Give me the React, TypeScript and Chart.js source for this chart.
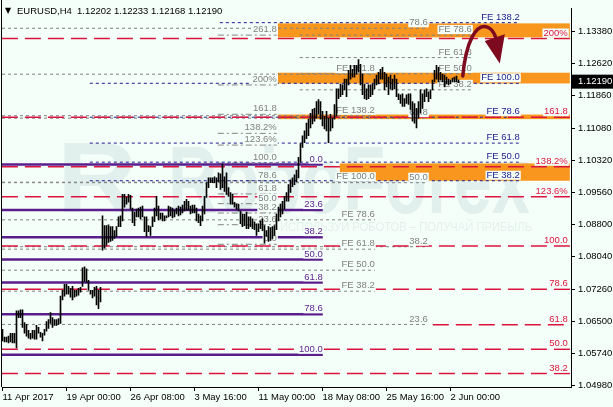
import React, { useEffect, useRef } from 'react';
import { Chart, registerables } from 'chart.js';

Chart.register(...registerables);

// ---- Price bars (H4, one value per bar, oldest first) ----
const highs = [
  1.06317, 1.06131, 1.06131, 1.06155, 1.06224, 1.06224, 1.06224, 1.06757, 1.06757, 1.06780,
  1.06780, 1.06479, 1.06433, 1.06294, 1.06224, 1.06294, 1.06294, 1.06410, 1.06363, 1.06247,
  1.06224, 1.06317, 1.06502, 1.06549, 1.06711, 1.06595, 1.06549, 1.06549, 1.06572, 1.07105,
  1.07244, 1.07383, 1.07383, 1.07337, 1.07290, 1.07337, 1.07244, 1.07244, 1.07290, 1.07314,
  1.07777, 1.07800, 1.07754, 1.07476, 1.07244, 1.07244, 1.07314, 1.07337, 1.07244, 1.07314,
  1.09006, 1.08774, 1.08774, 1.08797, 1.08751, 1.08751, 1.08658, 1.08751, 1.08983, 1.09006,
  1.09516, 1.09516, 1.09446, 1.09516, 1.09493, 1.09191, 1.09099, 1.09168, 1.09191, 1.09214,
  1.09238, 1.08983, 1.08983, 1.08774, 1.08751, 1.08983, 1.09191, 1.09470, 1.09238, 1.09075,
  1.09075, 1.09006, 1.09006, 1.09238, 1.09214, 1.09191, 1.09145, 1.09191, 1.09238, 1.09214,
  1.09261, 1.09354, 1.09400, 1.09354, 1.09238, 1.09261, 1.09261, 1.09191, 1.09052, 1.09006,
  1.09238, 1.09470, 1.09794, 1.09910, 1.09910, 1.09910, 1.09933, 1.09910, 1.10026, 1.10003,
  1.10235, 1.09933, 1.10026, 1.09678, 1.09562, 1.09516, 1.09330, 1.09284, 1.09284, 1.09122,
  1.09052, 1.09052, 1.09099, 1.08983, 1.08983, 1.08936, 1.08867, 1.08820, 1.08820, 1.08890,
  1.08936, 1.08774, 1.08658, 1.08751, 1.08728, 1.08751, 1.08774, 1.09052, 1.09214, 1.09284,
  1.09354, 1.09470, 1.09562, 1.09748, 1.09864,
  1.09910, 1.09979, 1.10095, 1.10397, 1.10721, 1.10907, 1.11023, 1.11208, 1.11300, 1.11440,
  1.11532, 1.11556, 1.11718, 1.11764, 1.11718, 1.11486, 1.11370, 1.11486, 1.11324, 1.11417,
  1.11324, 1.11648, 1.12019, 1.12019, 1.12135, 1.12112, 1.12251, 1.12251, 1.12460, 1.12576,
  1.12483, 1.12576, 1.12576, 1.12715, 1.12599, 1.12367, 1.12135, 1.12019, 1.12112, 1.12112,
  1.12135, 1.12251, 1.12344, 1.12413,
  1.12483, 1.12529, 1.12413, 1.12367, 1.12297, 1.12344, 1.12251, 1.12344, 1.12251, 1.11903,
  1.11880, 1.11903, 1.11787, 1.11880, 1.11903, 1.11903, 1.11718, 1.11672, 1.11556, 1.11718,
  1.11996, 1.11903, 1.11996, 1.12019, 1.11950, 1.11996, 1.12228, 1.12460, 1.12576, 1.12529,
  1.12413, 1.12367, 1.12344, 1.12297, 1.12251, 1.12228, 1.12274, 1.12297, 1.12320, 1.12233,
];
const lows = [
  1.06039, 1.06016, 1.06016, 1.05992, 1.06016, 1.05992, 1.05992, 1.05877, 1.06595, 1.06595,
  1.06363, 1.06224, 1.06155, 1.06108, 1.06085, 1.06108, 1.06085, 1.06085, 1.06224, 1.06131,
  1.06039, 1.06178, 1.06271, 1.06340, 1.06456, 1.06363, 1.06410, 1.06410, 1.06433, 1.06456,
  1.07012, 1.07105, 1.07151, 1.07151, 1.07082, 1.07012, 1.07082, 1.07105, 1.07128, 1.07198,
  1.07337, 1.07453, 1.07430, 1.07244, 1.07151, 1.07059, 1.07105, 1.06896, 1.06804, 1.06966,
  1.08195, 1.08241, 1.08310, 1.08380, 1.08403, 1.08426, 1.08473, 1.08519, 1.08751, 1.08751,
  1.08890, 1.09214, 1.09284, 1.09330, 1.09168, 1.08844, 1.08774, 1.08983, 1.08983, 1.08936,
  1.08983, 1.08635, 1.08519, 1.08635, 1.08542, 1.08751, 1.08867, 1.09006, 1.08913, 1.08936,
  1.08890, 1.08890, 1.08960, 1.08983, 1.09006, 1.08960, 1.08983, 1.09052, 1.09006, 1.09029,
  1.09075, 1.09122, 1.09145, 1.09145, 1.09052, 1.09075, 1.09075, 1.08890, 1.08844, 1.08774,
  1.08890, 1.09052, 1.09446, 1.09678, 1.09794, 1.09794, 1.09794, 1.09678, 1.09817, 1.09632,
  1.09678, 1.09585, 1.09516, 1.09470, 1.09284, 1.09284, 1.09214, 1.09168, 1.09122, 1.08820,
  1.08751, 1.08774, 1.08705, 1.08705, 1.08751, 1.08705, 1.08681, 1.08542, 1.08635, 1.08705,
  1.08658, 1.08357, 1.08519, 1.08403, 1.08426, 1.08473, 1.08542, 1.08681, 1.08890, 1.08983,
  1.09052, 1.09168, 1.09354, 1.09354, 1.09562,
  1.09701, 1.09748, 1.09817, 1.09910, 1.10281, 1.10628, 1.10744, 1.10837, 1.10907, 1.11092,
  1.11185, 1.11254, 1.11324, 1.11417, 1.11300, 1.11138, 1.11069, 1.11023, 1.10744, 1.11023,
  1.11092, 1.11300, 1.11370, 1.11787, 1.11834, 1.11880, 1.11996, 1.11834, 1.12112, 1.12251,
  1.12297, 1.12297, 1.12367, 1.12413, 1.12112, 1.11880, 1.11787, 1.11764, 1.11787, 1.11834,
  1.11880, 1.12019, 1.12112, 1.12135,
  1.12251, 1.12251, 1.11996, 1.12066, 1.11880, 1.12019, 1.11996, 1.12019, 1.11834, 1.11764,
  1.11672, 1.11602, 1.11602, 1.11672, 1.11648, 1.11532, 1.11254, 1.11208, 1.11092, 1.11324,
  1.11440, 1.11556, 1.11718, 1.11834, 1.11718, 1.11787, 1.11996, 1.12182, 1.12251, 1.12182,
  1.12228, 1.12182, 1.12066, 1.12135, 1.12112, 1.12135, 1.12182, 1.12182, 1.12182, 1.12168,
];

// ---- Axes ----
const xTickIndex = [0, 32, 64, 96, 128, 160, 192, 224];
const xTickLabels = ['11 Apr 2017', '19 Apr 00:00', '26 Apr 08:00', '3 May 16:00', '11 May 00:00', '18 May 08:00', '25 May 16:00', '2 Jun 00:00'];
const yTickValues = [1.1338, 1.1262, 1.1186, 1.1108, 1.1032, 1.0956, 1.088, 1.0804, 1.0726, 1.065, 1.0574, 1.0498];
const currentPrice = 1.1219;
const titleSymbol = 'EURUSD,H4';
const titleQuote = '1.12202 1.12233 1.12168 1.12190';

// ---- Level groups (bar-index extents, prices, labels) ----
const crimsonLabels = ['200%', '161.8', '138.2%', '123.6%', '100.0', '78.6', '61.8', '50.0', '38.2'];
const crimsonPrices = [1.13213, 1.11347, 1.10172, 1.09463, 1.08294, 1.07267, 1.06426, 1.05846, 1.05267];
const crimsonStarts = [-0.3, -0.3, -0.3, -0.3, -0.3, -0.3, 215.15, -0.3, -0.3];
const crimsonEnd = 284.3;
const crimsonLabelX = 282.65;

const purpleLabels = ['0.0', '23.6', '38.2', '50.0', '61.8', '78.6', '100.0'];
const purplePrices = [1.10223, 1.09145, 1.08503, 1.0797, 1.0743, 1.06672, 1.05714];
const purpleEnd = 160.15;

const fibLabels = ['261.8', '200%', '161.8', '138.2%', '123.6%', '100.0', '78.6', '61.8', '50.0', '38.2', '23.6', '0.0'];
const fibPrices = [1.13294, 1.12112, 1.11417, 1.10965, 1.10686, 1.10258, 1.0984, 1.09527, 1.09296, 1.09075, 1.08797, 1.08334];
const fibStart = 107.65;
const fibEnd = 137.15;

const navyLabels = ['FE 138.2', 'FE 100.0', 'FE 78.6', 'FE 61.8', 'FE 50.0', 'FE 38.2'];
const navyPrices = [1.13589, 1.12151, 1.11347, 1.10733, 1.10281, 1.0984];
const navyStarts = [108.65, 43.65, 43.65, 43.65, 43.65, 43.65];
const navyEnd = 258.65;

const grayALabels = ['FE 161.8', 'FE 138.2', 'FE 100.0', 'FE 78.6', 'FE 61.8', 'FE 50.0', 'FE 38.2'];
const grayAPrices = [1.12367, 1.11382, 1.09806, 1.08913, 1.08218, 1.07719, 1.07221];
const grayAEnd = 186.15;

const grayBLabels = ['FE 78.6', 'FE 61.8', 'FE 50.0', 'FE 38.2'];
const grayBPrices = [1.13294, 1.12761, 1.12379, 1.11996];
const grayBStart = 148.65;
const grayBEnd = 234.65;

const grayCLabels = ['78.6', '61.8', '50.0', '38.2', '23.6'];
const grayCPrices = [1.13456, 1.11324, 1.09794, 1.08276, 1.06433];
const grayCEnd = 212.65;

// ---- Orange zones ----
const bandStarts = [137.65, 137.65, 137.65, 168.65];
const bandEnds = [283.65, 283.65, 283.65, 283.65];
const bandHighs = [1.13572, 1.12402, 1.1141, 1.10251];
const bandLows = [1.13241, 1.12147, 1.11301, 1.0984];

// ---- Forecast arrow (bar index, price) ----
const arrowCurve = [[230.15, 1.12326], [231.65, 1.13109], [236.65, 1.13595], [242.65, 1.1348], [245.65, 1.1341], [246.65, 1.13225]];
const arrowHead = [[241.15, 1.13155], [251.15, 1.13317], [248.65, 1.12622]];

const X_MIN = -0.25;
const X_MAX = 284.25;
const Y_MIN = 1.04949;
const Y_MAX = 1.1392;

const BG = '#F5FFFA';
const FONT = '"Liberation Sans", Arial, sans-serif';
const C_CRIMSON = '#DC143C';
const C_PURPLE = '#5A1E8C';
const C_GRAY = '#808080';
const C_NAVY = '#1C1C8C';
const C_ORANGE = '#F8961E';

export default function App() {
  const ref = useRef<HTMLCanvasElement>(null);

  useEffect(() => {
    document.body.style.margin = '0';
    const canvas = ref.current;
    if (!canvas) return;

    const datasets: any[] = [];
    datasets.push({
      type: 'bar',
      label: 'EURUSD',
      data: highs.map((h, i) => ({ x: i, y: [lows[i], h] })),
      backgroundColor: '#000000',
      borderWidth: 0,
      barThickness: 1,
      grouped: false,
      order: 0,
    });

    const addLines = (prices: number[], starts: number | number[], ends: number | number[], color: string, width: number, dash: number[], order: number) => {
      prices.forEach((p, k) => {
        const s = Array.isArray(starts) ? starts[k] : starts;
        const e = Array.isArray(ends) ? ends[k] : ends;
        datasets.push({
          type: 'line',
          data: [{ x: s, y: p }, { x: e, y: p }],
          borderColor: color,
          borderWidth: width,
          borderDash: dash,
          pointRadius: 0,
          fill: false,
          tension: 0,
          order,
        });
      });
    };

    addLines(grayAPrices, X_MIN, grayAEnd, C_GRAY, 1, [3, 3], 6);
    addLines(grayCPrices, X_MIN, grayCEnd, C_GRAY, 1, [3, 3], 6);
    addLines(grayBPrices, grayBStart, grayBEnd, C_GRAY, 1, [3, 3], 6);
    addLines(fibPrices, fibStart, fibEnd, C_GRAY, 1, [6, 3, 2, 3], 6);
    addLines(navyPrices, navyStarts, navyEnd, C_NAVY, 1, [3, 3], 5);
    addLines(crimsonPrices, crimsonStarts, crimsonEnd, C_CRIMSON, 1.5, [16, 7], 4);
    addLines(purplePrices, X_MIN, purpleEnd, C_PURPLE, 2.5, [], 3);

    const labelGroups = [
      { labels: grayALabels, prices: grayAPrices, x: grayAEnd, color: C_GRAY },
      { labels: grayCLabels, prices: grayCPrices, x: grayCEnd, color: C_GRAY },
      { labels: grayBLabels, prices: grayBPrices, x: grayBEnd, color: C_GRAY },
      { labels: fibLabels, prices: fibPrices, x: fibEnd, color: C_GRAY },
      { labels: navyLabels, prices: navyPrices, x: navyEnd, color: C_NAVY },
      { labels: crimsonLabels, prices: crimsonPrices, x: crimsonLabelX, color: C_CRIMSON },
      { labels: purpleLabels, prices: purplePrices, x: purpleEnd, color: C_PURPLE },
    ];

    const plugin = {
      id: 'mt4look',
      beforeDraw(chart: any) {
        const ctx = chart.ctx;
        ctx.save();
        ctx.fillStyle = BG;
        ctx.fillRect(0, 0, chart.width, chart.height);
        ctx.restore();
      },
      beforeDatasetsDraw(chart: any) {
        const ctx = chart.ctx;
        const xs = chart.scales.x;
        const ys = chart.scales.y;
        // watermark
        ctx.save();
        ctx.fillStyle = 'rgba(150,180,185,0.2)';
        ctx.textBaseline = 'alphabetic';
        ctx.textAlign = 'left';
        ctx.font = `bold 100px ${FONT}`;
        const rw = ctx.measureText('R').width;
        ctx.save();
        ctx.translate(57, 212);
        ctx.scale(80 / rw, 1);
        ctx.fillText('R', 0, 0);
        ctx.restore();
        ctx.font = `bold 96px ${FONT}`;
        const ww = ctx.measureText('RoboForex').width;
        ctx.save();
        ctx.translate(168, 213);
        ctx.scale(362 / ww, 1);
        ctx.fillText('RoboForex', 0, 0);
        ctx.restore();
        ctx.font = `12px ${FONT}`;
        const sub = 'ИСПОЛЬЗУЙ РОБОТОВ – ПОЛУЧАЙ ПРИБЫЛЬ';
        const sw = ctx.measureText(sub).width;
        ctx.save();
        ctx.translate(280, 231);
        ctx.scale(252 / sw, 1);
        ctx.fillText(sub, 0, 0);
        ctx.restore();
        ctx.restore();
        // orange zones
        ctx.save();
        ctx.fillStyle = C_ORANGE;
        bandStarts.forEach((s, k) => {
          const x0 = xs.getPixelForValue(s);
          const x1 = xs.getPixelForValue(bandEnds[k]);
          const y0 = ys.getPixelForValue(bandHighs[k]);
          const y1 = ys.getPixelForValue(bandLows[k]);
          ctx.fillRect(x0, y0, x1 - x0, y1 - y0);
        });
        ctx.restore();
      },
      beforeDatasetDraw(chart: any, args: any) {
        if (args.index !== 0) return;
        const ctx = chart.ctx;
        const xs = chart.scales.x;
        const ys = chart.scales.y;
        ctx.save();
        ctx.font = `9.5px ${FONT}`;
        ctx.textAlign = 'right';
        ctx.textBaseline = 'middle';
        labelGroups.forEach((g) => {
          const xr = xs.getPixelForValue(g.x);
          g.labels.forEach((t, k) => {
            const cy = ys.getPixelForValue(g.prices[k]) - 5.5;
            const w = ctx.measureText(t).width;
            ctx.fillStyle = BG;
            ctx.fillRect(xr - w - 1, cy - 4.5, w + 2, 9);
            ctx.fillStyle = g.color;
            ctx.fillText(t, xr, cy);
          });
        });
        ctx.restore();
      },
      afterDraw(chart: any) {
        const ctx = chart.ctx;
        const xs = chart.scales.x;
        const ys = chart.scales.y;
        const area = chart.chartArea;
        ctx.save();
        // left border
        ctx.strokeStyle = '#000';
        ctx.lineWidth = 1;
        ctx.beginPath();
        ctx.moveTo(1.5, 0);
        ctx.lineTo(1.5, area.bottom);
        ctx.stroke();
        // title
        ctx.fillStyle = '#000';
        ctx.textBaseline = 'middle';
        ctx.textAlign = 'left';
        ctx.font = '8px "DejaVu Sans", sans-serif';
        ctx.fillText('▼', 5, 11);
        ctx.font = `9.5px ${FONT}`;
        ctx.fillText(titleSymbol, 17, 11);
        ctx.fillText(titleQuote, 77, 11);
        // arrow
        const P = (pt: number[]) => [xs.getPixelForValue(pt[0]), ys.getPixelForValue(pt[1])];
        const c = arrowCurve.map(P);
        ctx.strokeStyle = '#7D0A1E';
        ctx.fillStyle = '#7D0A1E';
        ctx.lineWidth = 3.5;
        ctx.lineCap = 'round';
        ctx.beginPath();
        ctx.moveTo(c[0][0], c[0][1]);
        ctx.bezierCurveTo(c[1][0], c[1][1], c[2][0], c[2][1], c[3][0], c[3][1]);
        ctx.quadraticCurveTo(c[4][0], c[4][1], c[5][0], c[5][1]);
        ctx.stroke();
        const h = arrowHead.map(P);
        ctx.beginPath();
        ctx.moveTo(h[0][0], h[0][1]);
        ctx.lineTo(h[1][0], h[1][1]);
        ctx.lineTo(h[2][0], h[2][1]);
        ctx.closePath();
        ctx.fill();
        // current price box
        const py = ys.getPixelForValue(currentPrice);
        ctx.fillStyle = '#000';
        ctx.fillRect(area.right + 1, py - 7, chart.width - area.right - 1, 14);
        ctx.fillStyle = '#FFF';
        ctx.font = `9.5px ${FONT}`;
        ctx.textBaseline = 'middle';
        ctx.fillText(currentPrice.toFixed(5), area.right + 7, py);
        ctx.restore();
      },
    };

    const chart = new Chart(canvas, {
      type: 'bar',
      data: { datasets },
      options: {
        animation: false,
        responsive: false,
        maintainAspectRatio: false,
        layout: { padding: { left: 2, top: 0, right: 0, bottom: 0 } },
        plugins: { legend: { display: false }, tooltip: { enabled: false }, title: { display: false } },
        scales: {
          x: {
            type: 'linear',
            position: 'bottom',
            min: X_MIN,
            max: X_MAX,
            offset: false,
            grid: { display: true, drawOnChartArea: false, drawTicks: true, tickLength: 4, color: '#000', offset: false },
            border: { display: true, color: '#000', width: 1 },
            afterBuildTicks: (s: any) => { s.ticks = xTickIndex.map((v) => ({ value: v })); },
            afterFit: (s: any) => { s.height = 20; },
            ticks: {
              autoSkip: false,
              maxRotation: 0,
              minRotation: 0,
              align: 'start',
              padding: 1,
              color: '#000',
              font: { family: FONT, size: 9.5 },
              callback: (_v: any, idx: number) => xTickLabels[idx] ?? '',
            },
          },
          y: {
            type: 'linear',
            position: 'right',
            min: Y_MIN,
            max: Y_MAX,
            grid: { display: true, drawOnChartArea: false, drawTicks: true, tickLength: 4, color: '#000' },
            border: { display: true, color: '#000', width: 1 },
            afterBuildTicks: (s: any) => { s.ticks = yTickValues.map((v) => ({ value: v })); },
            afterFit: (s: any) => { s.width = 42; },
            ticks: {
              padding: 3,
              color: '#000',
              font: { family: FONT, size: 9.5 },
              callback: (v: any) => Number(v).toFixed(5),
            },
          },
        },
      } as any,
      plugins: [plugin],
    });

    return () => chart.destroy();
  }, []);

  return (
    <div style={{ position: 'absolute', left: 0, top: 0, width: 613, height: 407 }}>
      <canvas ref={ref} width={613} height={407} style={{ width: 613, height: 407, display: 'block' }} />
    </div>
  );
}
